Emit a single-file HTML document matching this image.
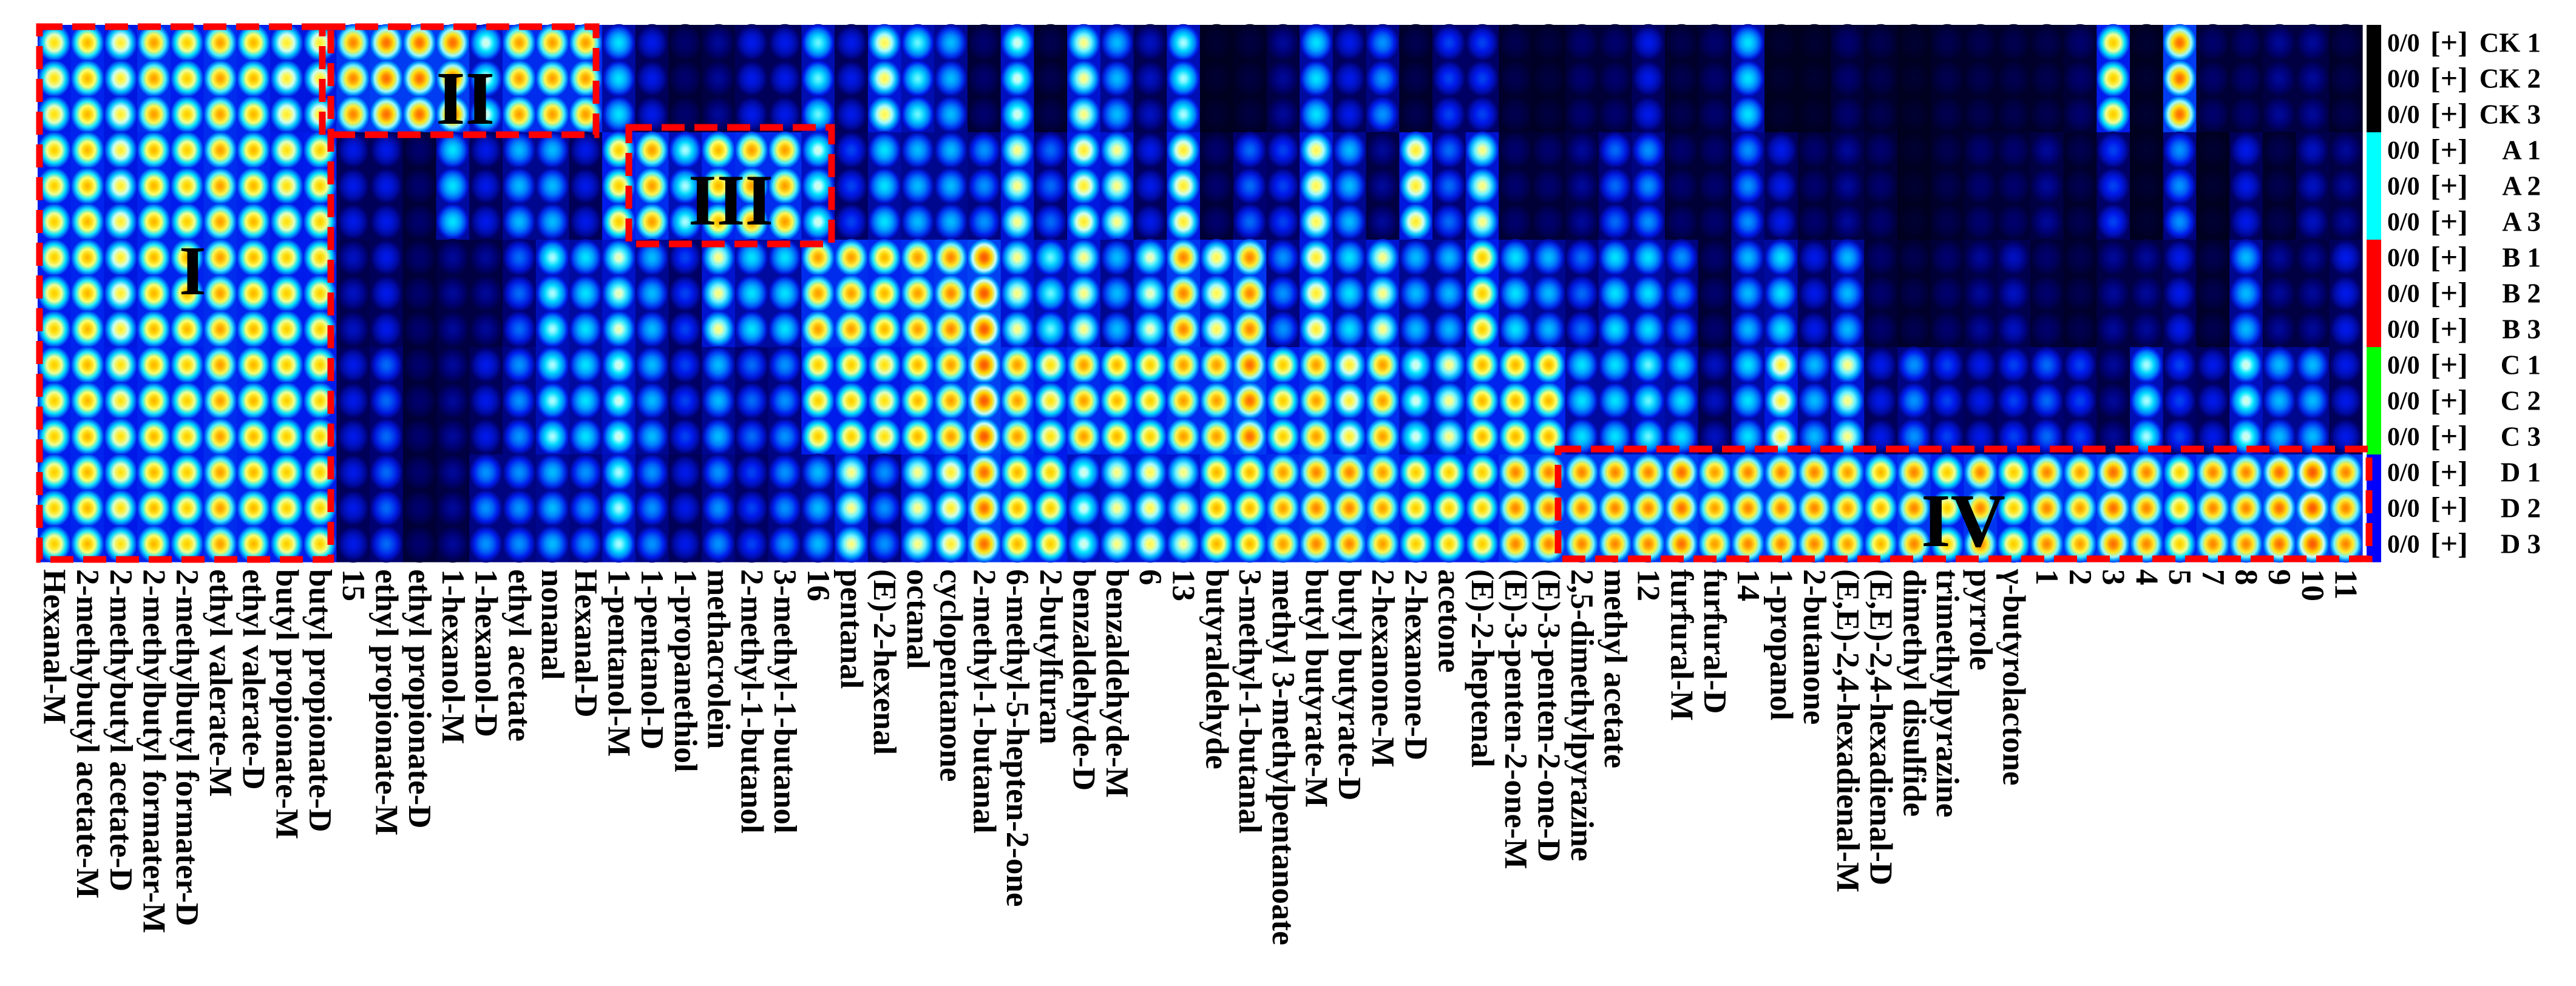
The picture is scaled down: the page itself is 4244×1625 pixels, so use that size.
<!DOCTYPE html>
<html><head><meta charset="utf-8">
<style>
html,body{margin:0;padding:0;background:#fff;}
svg{display:block;}
text{font-family:"Liberation Serif","DejaVu Serif",serif;font-weight:bold;fill:#000;}
</style></head>
<body>
<svg id="chart" width="4244" height="1625" viewBox="0 0 4244 1625" xmlns="http://www.w3.org/2000/svg">
<defs id="defs"></defs>
<g id="cells"></g>
<g id="collabels"></g>
<g id="rowlabels"></g>
<g id="boxes"></g>
</svg>
<script>
const categories = ["Hexanal-M","2-methybutyl acetate-M","2-methybutyl acetate-D","2-methylbutyl formater-M","2-methylbutyl formater-D","ethyl valerate-M","ethyl valerate-D","butyl propionate-M","butyl propionate-D","15","ethyl propionate-M","ethyl propionate-D","1-hexanol-M","1-hexanol-D","ethyl acetate","nonanal","Hexanal-D","1-pentanol-M","1-pentanol-D","1-propanethiol","methacrolein","2-methyl-1-butanol","3-methyl-1-butanol","16","pentanal","(E)-2-hexenal","octanal","cyclopentanone","2-methyl-1-butanal","6-methyl-5-hepten-2-one","2-butylfuran","benzaldehyde-D","benzaldehyde-M","6","13","butyraldehyde","3-methyl-1-butanal","methyl 3-methylpentanoate","butyl butyrate-M","butyl butyrate-D","2-hexanone-M","2-hexanone-D","acetone","(E)-2-heptenal","(E)-3-penten-2-one-M","(E)-3-penten-2-one-D","2,5-dimethylpyrazine","methyl acetate","12","furfural-M","furfural-D","14","1-propanol","2-butanone","(E,E)-2,4-hexadienal-M","(E,E)-2,4-hexadienal-D","dimethyl disulfide","trimethylpyrazine","pyrrole","γ-butyrolactone","1","2","3","4","5","7","8","9","10","11"];
const groups = ["CK","A","B","C","D"];
const groupColors = ["#000000","#00ffff","#ff0000","#00ff00","#0000ff"];
const valuesCK = [0.78,0.82,0.75,0.85,0.8,0.85,0.82,0.75,0.75, 0.88,0.9,0.9,0.9,0.65,0.85,0.85,0.85,0.55,0.3,0.15,0.2,0.3,0.3,0.6,0.3, 0.72,0.6,0.5,0.15,0.65,0.1,0.7,0.5,0.25,0.62,0.05,0.08,0.2,0.55,0.3,0.45,0.1,0.35, 0.35,0.1,0.08,0.15,0.15,0.3,0.1,0.15,0.55,0.05,0.05,0.15,0.1,0.05,0.1,0.1,0.1,0.1, 0.15,0.8,0.05,0.9,0.15,0.15,0.2,0.2,0.1];
const valuesA = [0.8,0.82,0.75,0.82,0.8,0.85,0.82,0.78,0.8, 0.3,0.3,0.15,0.55,0.3,0.5,0.5,0.3,0.8,0.85,0.62,0.82,0.85,0.85,0.65,0.35, 0.55,0.5,0.5,0.45,0.7,0.4,0.75,0.7,0.3,0.75,0.15,0.4,0.35,0.72,0.5,0.2,0.75,0.4, 0.7,0.15,0.15,0.2,0.4,0.45,0.15,0.15,0.45,0.3,0.15,0.2,0.15,0.05,0.1,0.15,0.15,0.2, 0.1,0.35,0.05,0.45,0.05,0.3,0.1,0.25,0.2];
const valuesB = [0.8,0.82,0.75,0.82,0.82,0.85,0.82,0.8,0.8, 0.25,0.3,0.15,0.2,0.2,0.4,0.62,0.55,0.68,0.5,0.35,0.7,0.55,0.55,0.85,0.85, 0.82,0.85,0.88,0.92,0.7,0.6,0.7,0.5,0.68,0.88,0.72,0.88,0.45,0.75,0.55,0.7,0.5,0.5, 0.8,0.55,0.5,0.4,0.55,0.55,0.45,0.15,0.5,0.55,0.3,0.5,0.15,0.1,0.15,0.2,0.25,0.15, 0.1,0.2,0.2,0.3,0.1,0.5,0.2,0.2,0.3];
const valuesC = [0.8,0.82,0.78,0.82,0.8,0.85,0.82,0.8,0.8, 0.3,0.4,0.15,0.2,0.3,0.45,0.62,0.55,0.66,0.5,0.35,0.5,0.4,0.45,0.8,0.8, 0.78,0.82,0.85,0.92,0.85,0.78,0.85,0.82,0.8,0.85,0.85,0.9,0.8,0.85,0.75,0.85,0.65,0.7, 0.82,0.82,0.82,0.55,0.55,0.6,0.55,0.25,0.55,0.75,0.5,0.7,0.3,0.45,0.35,0.3,0.35,0.4, 0.35,0.2,0.62,0.35,0.3,0.65,0.5,0.5,0.3];
const valuesD = [0.8,0.82,0.78,0.82,0.8,0.85,0.82,0.8,0.8, 0.3,0.4,0.15,0.2,0.45,0.45,0.5,0.45,0.62,0.45,0.3,0.45,0.35,0.45,0.5,0.7, 0.45,0.7,0.75,0.9,0.82,0.8,0.65,0.7,0.72,0.7,0.82,0.82,0.85,0.88,0.88,0.85,0.8,0.8, 0.8,0.88,0.88,0.88,0.88,0.88,0.9,0.85,0.88,0.88,0.88,0.85,0.82,0.88,0.8,0.88,0.8,0.88, 0.85,0.9,0.88,0.8,0.88,0.88,0.9,0.92,0.88];
const groupValues = [valuesCK,valuesA,valuesB,valuesC,valuesD];
const replicates = [1,2,3];

const NS="http://www.w3.org/2000/svg";
const X0=62, X1=3892, Y0=41, Y1=926;
const nCol=categories.length, nRow=groups.length*replicates.length;
const cw=(X1-X0)/nCol, rh=(Y1-Y0)/nRow;
function xScale(i){return X0+i*cw;}
function yScale(r){return Y0+r*rh;}
const stops=[[0,[0,0,20]],[0.15,[0,0,110]],[0.3,[0,25,235]],[0.45,[0,150,255]],[0.55,[0,230,255]],[0.63,[200,255,255]],[0.7,[255,255,110]],[0.78,[255,220,0]],[0.88,[255,120,0]],[1,[235,25,0]]];
function jet(v){v=Math.max(0,Math.min(1,v));for(let i=1;i<stops.length;i++){if(v<=stops[i][0]){const a=stops[i-1],b=stops[i],t=(v-a[0])/(b[0]-a[0]);const c=a[1].map((x,k)=>Math.round(x+(b[1][k]-x)*t));return `rgb(${c[0]},${c[1]},${c[2]})`;}}return "rgb(235,25,0)";}
function el(tag,attrs,parent){const e=document.createElementNS(NS,tag);for(const k in attrs)e.setAttribute(k,attrs[k]);parent.appendChild(e);return e;}
const defs=document.getElementById('defs');
const made={};
function grad(v){const q=Math.round(v*40);const id='g'+q;if(!made[id]){made[id]=1;const vv=q/40;const g=el('radialGradient',{id:id,cx:'0.5',cy:'0.5',r:'0.5'},defs);
[[0,1],[0.2,0.96],[0.45,0.85],[0.7,0.68],[0.88,0.5],[1,0.38]].forEach(s=>el('stop',{offset:s[0],'stop-color':jet(vv*s[1])},g));}return 'url(#'+id+')';}
const cells=document.getElementById('cells');
groups.forEach((g,gi)=>{replicates.forEach((rep,ri)=>{const r=gi*3+ri;const y=yScale(r);
 groupValues[gi].forEach((v,ci)=>{const x=xScale(ci);
  const rc=el('rect',{x:x.toFixed(1),y:y.toFixed(1),width:(cw+0.6).toFixed(1),height:(rh+0.6).toFixed(1),fill:jet(v*0.38)},cells);
  
  
  const e=el('ellipse',{cx:(x+cw/2).toFixed(1),cy:(y+rh/2).toFixed(1),rx:(cw*0.5).toFixed(1),ry:(rh*0.52).toFixed(1),fill:grad(v)},cells);
  
  
 });});});
// column labels
const cl=document.getElementById('collabels');
categories.forEach((c,i)=>{const cx=xScale(i)+cw/2;const t=el('text',{x:0,y:0,'font-size':'53','dominant-baseline':'central',transform:`translate(${cx.toFixed(1)},938) rotate(90)`},cl);t.textContent=c;
 
 });
// row labels + strip
const rl=document.getElementById('rowlabels');
groups.forEach((g,gi)=>{replicates.forEach((rep,ri)=>{const r=gi*3+ri;const y=yScale(r);const cy=y+rh/2;
 const s=el('rect',{x:3899,y:y.toFixed(1),width:24,height:(rh+0.6).toFixed(1),fill:groupColors[gi]},rl);
 
 
 const t1=el('text',{x:3933,y:(cy+14).toFixed(1),'font-size':'42'},rl);t1.textContent='0/0';
 
 
 const t2=el('text',{x:4004,y:(cy+16).toFixed(1),'font-size':'50','font-weight':'normal'},rl);t2.textContent='[+]';
 
 
 const t3=el('text',{x:4186,y:(cy+15).toFixed(1),'font-size':'45','text-anchor':'end'},rl);t3.textContent=g+' '+rep;
 
 
});});
// region boxes
const bx=document.getElementById('boxes');
const regions=[["I",65,44,545,922,295,485,115],["II",531,44,982,222,718,204,125],["III",1036,210,1370,402,1134,370,120],["IV",2567,740,3903,921,3165,900,125]];
regions.forEach(b=>{const r=el('rect',{x:b[1],y:b[2],width:b[3]-b[1],height:b[4]-b[2],fill:'none',stroke:'#ff0000','stroke-width':'11','stroke-dasharray':'38 16'},bx);
 
 
 const t=el('text',{x:b[5],y:b[6],'font-size':b[7]},bx);t.textContent=b[0];
 
 });
</script>
</body></html>
